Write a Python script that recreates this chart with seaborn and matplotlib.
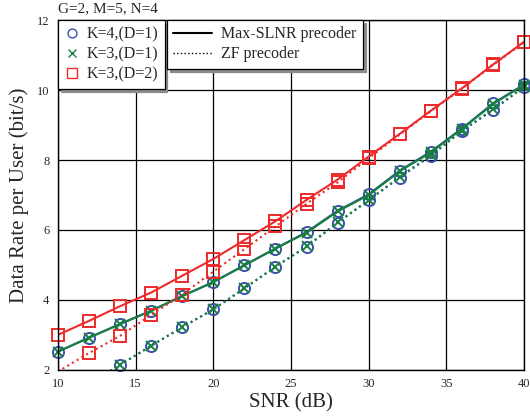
import numpy as np
import pandas as pd
import matplotlib
matplotlib.use("Agg")
import matplotlib.pyplot as plt
from matplotlib.lines import Line2D
import seaborn as sns

snr = [10, 12, 14, 16, 18, 20, 22, 24, 26, 28, 30, 32, 34, 36, 38, 40]

k3d2_slnr = [3.0, 3.4, 3.82, 4.21, 4.69, 5.17, 5.71, 6.25, 6.86, 7.44, 8.1, 8.75, 9.41, 10.05, 10.73, 11.38]
k3d2_zf = [1.95, 2.48, 2.97, 3.57, 4.15, 4.81, 5.45, 6.1, 6.75, 7.36, 8.05, 8.73, 9.4, 10.04, 10.72, 11.37]

k3d1_slnr = [2.52, 2.92, 3.31, 3.69, 4.11, 4.51, 4.99, 5.47, 5.92, 6.53, 7.0, 7.68, 8.22, 8.89, 9.6, 10.15]
k3d1_zf = [1.1, 1.6, 2.14, 2.69, 3.22, 3.73, 4.33, 4.95, 5.53, 6.22, 6.86, 7.52, 8.14, 8.84, 9.45, 10.1]

k4d1_slnr = [2.52, 2.92, 3.31, 3.69, 4.11, 4.51, 4.99, 5.47, 5.94, 6.55, 7.02, 7.7, 8.24, 8.9, 9.62, 10.16]
k4d1_zf = [1.1, 1.6, 2.14, 2.69, 3.22, 3.73, 4.33, 4.95, 5.52, 6.2, 6.85, 7.5, 8.12, 8.83, 9.43, 10.09]

series_labels = ["K=4,(D=1)", "K=3,(D=1)", "K=3,(D=2)"]
precoder_labels = ["Max-SLNR precoder", "ZF precoder"]

sns.set_theme(style="white")
plt.rcParams['font.family'] = ['Liberation Serif', 'DejaVu Serif']
plt.rcParams['mathtext.fontset'] = 'stix'

fig = plt.figure(figsize=(5.3, 4.18), dpi=100)
ax = fig.add_axes([0.109, 0.115, 0.88, 0.837])

YMIN, YMAX = 2, 12

blue = '#3a4fb0'
green = '#17803f'
red = '#ee2a2a'

styles = [
    (k4d1_slnr, k4d1_zf, blue, 'o', 8.0),
    (k3d1_slnr, k3d1_zf, green, 'x', 7.5),
    (k3d2_slnr, k3d2_zf, red, 's', 9.0),
]

for slnr, zf, col, mk, ms in styles:
    for vals, ls in ((slnr, '-'), (zf, ':')):
        df = pd.DataFrame({"snr": snr, "rate": vals})
        sns.lineplot(data=df, x="snr", y="rate", ax=ax, color=col,
                     linewidth=1.5, linestyle=ls)
        vis = df[(df["rate"] >= YMIN) & (df["rate"] <= YMAX)]
        sns.lineplot(data=vis, x="snr", y="rate", ax=ax, color=col, marker=mk,
                     markersize=ms, markerfacecolor='none', markeredgecolor=col,
                     markeredgewidth=1.4, linestyle='none', clip_on=False)

ax.set_xlim(10, 40)
ax.set_ylim(YMIN, YMAX)
ax.set_xticks([10, 15, 20, 25, 30, 35, 40])
ax.set_yticks([2, 4, 6, 8, 10, 12])
ax.grid(True, color='black', linewidth=0.9)
ax.set_axisbelow(True)
for sp in ax.spines.values():
    sp.set_color('black')
    sp.set_linewidth(1.0)
ax.tick_params(axis='both', labelsize=9, direction='in', length=3, color='black', pad=6)
ax.set_xlabel("SNR (dB)", fontsize=15, labelpad=2)
ax.set_ylabel("Data Rate per User (bit/s)", fontsize=15, labelpad=6)
ax.text(0.0, 1.015, "G=2, M=5, N=4", transform=ax.transAxes, fontsize=11,
        ha='left', va='bottom')

shadow = {'color': '0.55', 'alpha': 1}

h1 = [Line2D([], [], linestyle='none', marker=m, color=c, markerfacecolor='none',
             markersize=s * 0.8, markeredgewidth=1.0) for (_, _, c, m, s) in styles]
leg1 = ax.legend(h1, series_labels, loc='upper left', bbox_to_anchor=(0.0, 1.0),
                 borderaxespad=0, fancybox=False, shadow=shadow, edgecolor='black',
                 framealpha=1, fontsize=11.5, handlelength=1.0, handletextpad=0.4,
                 labelspacing=0.25, borderpad=0.4)
leg1.get_frame().set_linewidth(0.9)
leg1.set_zorder(10)
ax.add_artist(leg1)

h2 = [Line2D([], [], color='black', linestyle='-', linewidth=1.5),
      Line2D([], [], color='black', linestyle=':', linewidth=1.0)]
leg2 = ax.legend(h2, precoder_labels, loc='upper left', bbox_to_anchor=(0.234, 1.0),
                 borderaxespad=0, fancybox=False, shadow=shadow, edgecolor='black',
                 framealpha=1, fontsize=11.5, handlelength=2.4, handletextpad=0.6,
                 labelspacing=0.25, borderpad=0.4)
leg2.get_frame().set_linewidth(0.9)
leg2.set_zorder(10)

fig.savefig("out.png", dpi=100)
